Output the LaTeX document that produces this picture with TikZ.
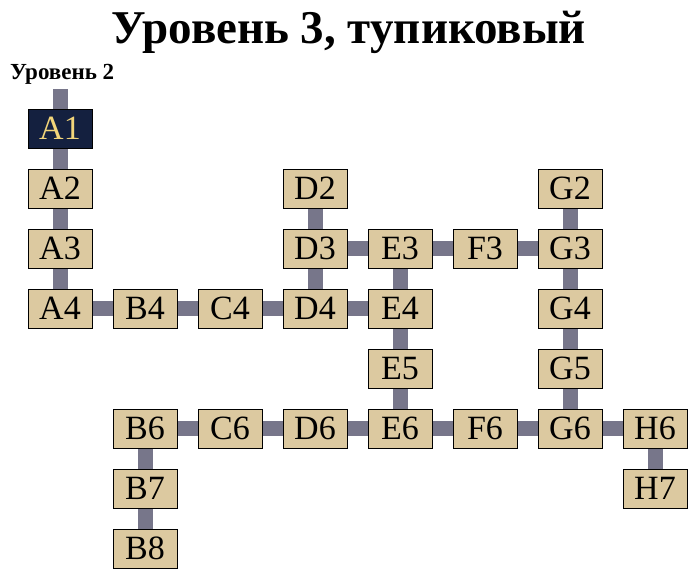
\documentclass[tikz,border=0pt]{standalone}
\usepackage{fontspec}
\setmainfont{Liberation Serif}
\usetikzlibrary{backgrounds}
\definecolor{roomtan}{HTML}{DCC9A0}
\definecolor{roomnavy}{HTML}{14203F}
\definecolor{roomgold}{HTML}{F2D57A}
\definecolor{passgray}{HTML}{77768A}
\begin{document}
\begin{tikzpicture}[x=85pt,y=-60pt,
  room/.style={rectangle,draw=black,line width=.8pt,fill=roomtan,minimum width=64pt,minimum height=39pt,inner sep=0pt,font=\fontsize{34}{36}\selectfont},
  here/.style={room,fill=roomnavy,text=roomgold},
  pass/.style={passgray,line width=15pt}]
\useasboundingbox (-0.706,-1.142) rectangle (7.506,8.508);
\node[anchor=base,font=\bfseries\fontsize{47}{50}\selectfont] (title) at (3.4,-0.425) {Уровень 3, тупиковый};
\node[anchor=base west,inner sep=0pt,font=\bfseries\fontsize{23}{26}\selectfont] (up) at (-0.588,0.175) {Уровень 2};
\coordinate (stair) at (0,0.342);
% column A
\node[here] (a1) at (0,1) {A1};
\node[room] (a2) at (0,2) {A2};
\node[room] (a3) at (0,3) {A3};
\node[room] (a4) at (0,4) {A4};
% row 4
\node[room] (b4) at (1,4) {B4};
\node[room] (c4) at (2,4) {C4};
\node[room] (d4) at (3,4) {D4};
\node[room] (e4) at (4,4) {E4};
% rows 2 and 3
\node[room] (d2) at (3,2) {D2};
\node[room] (d3) at (3,3) {D3};
\node[room] (e3) at (4,3) {E3};
\node[room] (f3) at (5,3) {F3};
\node[room] (g3) at (6,3) {G3};
\node[room] (g2) at (6,2) {G2};
\node[room] (g4) at (6,4) {G4};
\node[room] (g5) at (6,5) {G5};
\node[room] (e5) at (4,5) {E5};
% row 6
\node[room] (b6) at (1,6) {B6};
\node[room] (c6) at (2,6) {C6};
\node[room] (d6) at (3,6) {D6};
\node[room] (e6) at (4,6) {E6};
\node[room] (f6) at (5,6) {F6};
\node[room] (g6) at (6,6) {G6};
\node[room] (h6) at (7,6) {H6};
\node[room] (h7) at (7,7) {H7};
\node[room] (b7) at (1,7) {B7};
\node[room] (b8) at (1,8) {B8};
\begin{scope}[on background layer]
\draw[pass] (stair) -- (a1.center);
\draw[pass] (a1.center) -- (a2.center) -- (a3.center) -- (a4.center) -- (b4.center) -- (c4.center) -- (d4.center) -- (e4.center);
\draw[pass] (d2.center) -- (d3.center) -- (d4.center);
\draw[pass] (d3.center) -- (e3.center) -- (f3.center) -- (g3.center);
\draw[pass] (e3.center) -- (e4.center) -- (e5.center) -- (e6.center);
\draw[pass] (g2.center) -- (g3.center) -- (g4.center) -- (g5.center) -- (g6.center);
\draw[pass] (b8.center) -- (b7.center) -- (b6.center) -- (c6.center) -- (d6.center) -- (e6.center) -- (f6.center) -- (g6.center) -- (h6.center) -- (h7.center);
\end{scope}
\end{tikzpicture}
\end{document}
